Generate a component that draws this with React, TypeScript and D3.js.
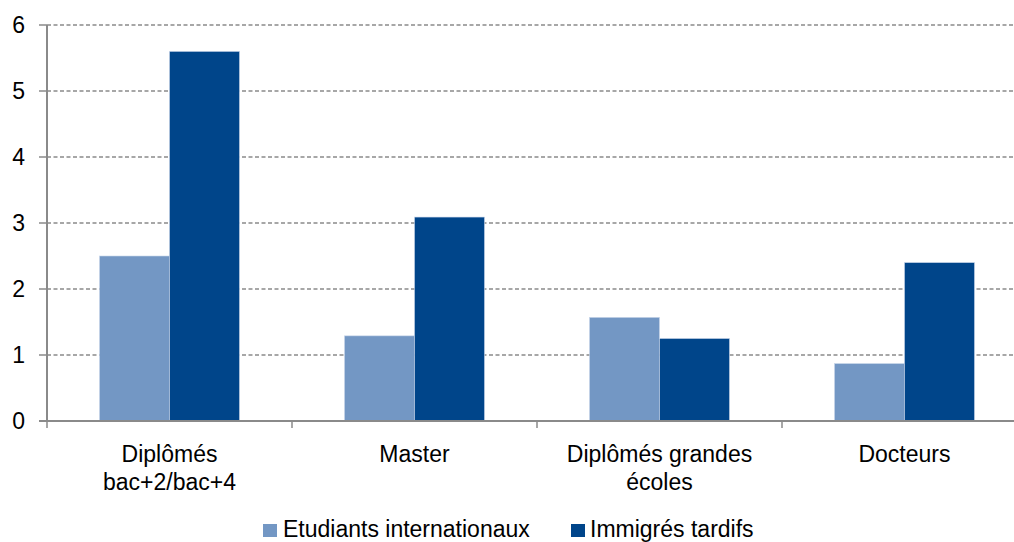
import React from "react";
import * as d3 from "d3";

const categories = [["Diplômés", "bac+2/bac+4"], ["Master"], ["Diplômés grandes", "écoles"], ["Docteurs"]];
const seriesNames = ["Etudiants internationaux", "Immigrés tardifs"];
const etudiants = [2.5, 1.29, 1.57, 0.87];
const immigres = [5.6, 3.09, 1.25, 2.4];
const yTicks = [0, 1, 2, 3, 4, 5, 6];
const colors = ["#7397C4", "#00458A"];

export default function App() {
  const W = 1014, H = 542;
  const x0 = 47, x1 = 1027, y0 = 421, y1 = 25;
  const keys = categories.map((c, i) => String(i));
  const x = d3.scaleBand().domain(keys).range([x0, x1]).paddingInner(0).paddingOuter(0);
  const bw = x.bandwidth();
  const barW = bw / 3.5;
  const y = d3.scaleLinear().domain([0, 6]).range([y0, y1]);
  const series = [etudiants, immigres];
  const font = "'Liberation Sans', Arial, Helvetica, sans-serif";
  const fs = 23;

  return (
    <svg width={W} height={H} style={{ position: "absolute", left: 0, top: 0, background: "#fff" }} fontFamily={font}>
      {yTicks.filter(t => t > 0).map(t => (
        <line key={"g" + t} x1={x0} x2={W} y1={y(t)} y2={y(t)} stroke="#8a8a8a" strokeWidth={1.3} strokeDasharray="4,2.5" />
      ))}
      {series.map((vals, si) =>
        vals.map((v, i) => {
          const bx = (x(keys[i]) as number) + (bw - 2 * barW) / 2 + si * barW;
          return (
            <rect key={si + "-" + i} x={bx} y={y(v)} width={barW} height={y0 - y(v)} fill={colors[si]} stroke="#c8d6ea" strokeWidth={0.6} />
          );
        })
      )}
      <line x1={x0} x2={x0} y1={y1} y2={y0} stroke="#8a8a8a" strokeWidth={2} />
      {yTicks.map(t => (
        <g key={"t" + t}>
          <line x1={x0 - 8} x2={x0} y1={y(t)} y2={y(t)} stroke="#8a8a8a" strokeWidth={1.5} />
          <text x={25} y={y(t) + 8} textAnchor="end" fontSize={fs} fill="#000">{t}</text>
        </g>
      ))}
      <line x1={x0 - 8} x2={W} y1={y0} y2={y0} stroke="#8a8a8a" strokeWidth={2} />
      {keys.map((k, i) => (
        <line key={"xt" + k} x1={x(k) as number} x2={x(k) as number} y1={y0} y2={y0 + 7} stroke="#8a8a8a" strokeWidth={1.5} />
      ))}
      {categories.map((lines, i) => (
        <text key={"c" + i} x={(x(keys[i]) as number) + bw / 2} y={462} textAnchor="middle" fontSize={fs} fill="#000">
          {lines.map((l, j) => (
            <tspan key={j} x={(x(keys[i]) as number) + bw / 2} dy={j === 0 ? 0 : 28}>{l}</tspan>
          ))}
        </text>
      ))}
      <rect x={263} y={524} width={14} height={13} fill={colors[0]} />
      <text x={283} y={537} fontSize={fs} fill="#000">{seriesNames[0]}</text>
      <rect x={571} y={524} width={14} height={13} fill={colors[1]} />
      <text x={590} y={537} fontSize={fs} fill="#000">{seriesNames[1]}</text>
    </svg>
  );
}
